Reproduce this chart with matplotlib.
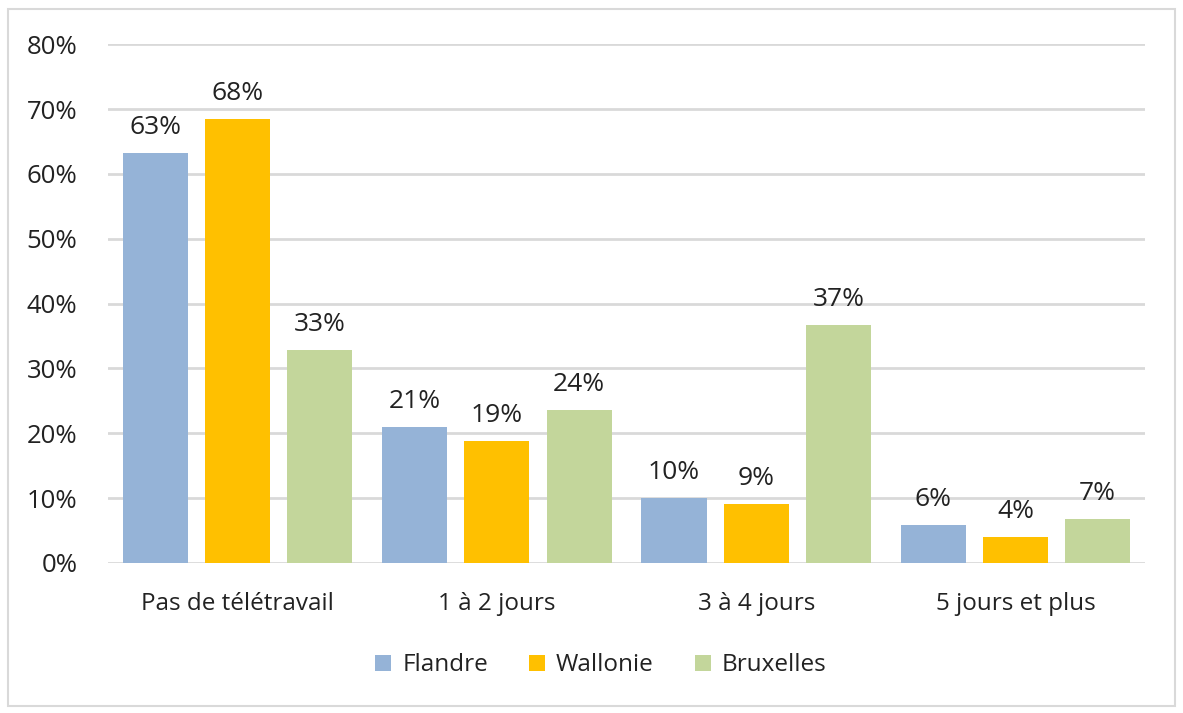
'''Télétravail par région - barres groupées'''

import numpy as np
import matplotlib as ma
ma.use('agg')
import matplotlib.pyplot as plt
from matplotlib.patches import Rectangle

categories = ['Pas de télétravail', '1 à 2 jours', '3 à 4 jours', '5 jours et plus']
regions = ['Flandre', 'Wallonie', 'Bruxelles']
flandre = [63.3, 21.0, 10.0, 5.9]
wallonie = [68.4, 18.8, 9.1, 4.0]
bruxelles = [32.8, 23.6, 36.7, 6.8]
yticks = [0, 10, 20, 30, 40, 50, 60, 70, 80]

colors = ['#95b3d7', '#ffc000', '#c3d69b']

def main():
    plt.rcParams['font.family'] = ['Open Sans', 'DejaVu Sans']
    fig = plt.figure(figsize=(11.83, 7.13), dpi=100)
    fig.patches.append(Rectangle((0.007, 0.01), 0.986, 0.978, transform=fig.transFigure,
                                 fill=False, edgecolor='#d9d9d9', lw=1.5))
    ax = fig.add_axes([0.0913, 0.2104, 0.8767, 0.7276])

    x = np.arange(len(categories))
    w = 0.251
    step = 0.317
    series = [flandre, wallonie, bruxelles]
    for i, (name, vals) in enumerate(zip(regions, series)):
        pos = x + (i - 1) * step
        ax.bar(pos, vals, width=w, color=colors[i], label=name, zorder=3)
        for px, v in zip(pos, vals):
            ax.text(px, v + 2.0, '%d%%' % round(v), ha='center', va='bottom',
                    fontsize=19, color='#222222', zorder=4)

    ax.set_xlim(-0.5, 3.5)
    ax.set_ylim(0, 80)
    ax.set_yticks(yticks)
    ax.set_yticklabels(['%d%%' % t for t in yticks], fontsize=18.5, color='#222222')
    ax.set_xticks(x)
    ax.set_xticklabels(categories, fontsize=17.5, color='#222222')
    ax.tick_params(axis='both', length=0)
    ax.tick_params(axis='y', pad=22)
    ax.tick_params(axis='x', pad=21)
    ax.grid(axis='y', color='#d9d9d9', lw=2, zorder=0)
    for s in ax.spines.values():
        s.set_visible(False)

    fig.legend(loc='center', bbox_to_anchor=(0.508, 0.067), ncol=3, frameon=False,
               fontsize=17.5, handlelength=0.65, handleheight=0.65, handletextpad=0.45,
               columnspacing=1.7, labelcolor='#222222')
    fig.savefig('out.png', dpi=100)

if __name__ == "__main__":
    main()
